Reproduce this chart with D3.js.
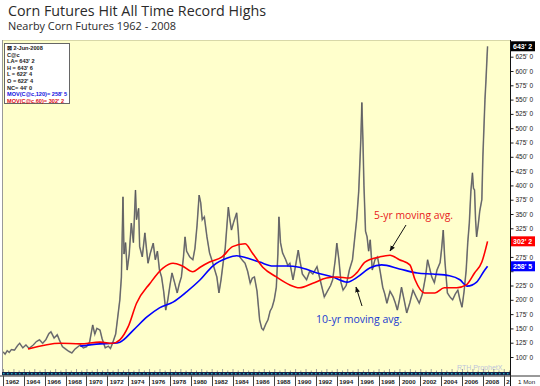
<!DOCTYPE html>
<html>
<head>
<meta charset="utf-8">
<script src="https://cdn.jsdelivr.net/npm/d3@7"></script>
<style>
  body { margin: 0; background: #fff; }
  svg { display: block; }
</style>
</head>
<body>
<div id="chart"></div>
<script>
// chart size
const width = 540;
const height = 386;

// nearby corn futures, cents/bushel
const priceYears = [
  1962.0, 1962.2, 1962.4, 1962.6, 1962.8, 1963.1, 1963.4, 1963.6, 1963.9, 1964.2,
  1964.5, 1964.9, 1965.2, 1965.5, 1965.8, 1966.1, 1966.4, 1966.6, 1966.9, 1967.2,
  1967.4, 1967.7, 1968.0, 1968.3, 1968.6, 1968.9, 1969.2, 1969.4, 1969.7, 1970.0,
  1970.3, 1970.6, 1970.8, 1971.0, 1971.3, 1971.5, 1971.8, 1972.1, 1972.3, 1972.5,
  1972.8, 1973.0, 1973.2, 1973.35, 1973.5, 1973.6, 1973.75, 1973.9, 1974.1, 1974.3,
  1974.5, 1974.7, 1974.8, 1975.0, 1975.1, 1975.35, 1975.6, 1975.75, 1975.9, 1976.1,
  1976.4, 1976.6, 1976.8, 1977.0, 1977.2, 1977.4, 1977.6, 1977.8, 1978.0, 1978.2,
  1978.45, 1978.7, 1978.9, 1979.1, 1979.3, 1979.45, 1979.6, 1979.9, 1980.2, 1980.4,
  1980.6, 1980.8, 1980.95, 1981.1, 1981.3, 1981.55, 1981.8, 1982.05, 1982.3, 1982.5,
  1982.7, 1982.9, 1983.1, 1983.3, 1983.6, 1983.75, 1983.9, 1984.1, 1984.4, 1984.55,
  1984.7, 1985.0, 1985.2, 1985.45, 1985.7, 1985.9, 1986.1, 1986.35, 1986.6, 1986.8,
  1986.95, 1987.2, 1987.4, 1987.6, 1987.8, 1988.0, 1988.2, 1988.35, 1988.45, 1988.6,
  1988.8, 1989.1, 1989.3, 1989.5, 1989.8, 1990.0, 1990.3, 1990.45, 1990.7, 1991.1,
  1991.4, 1991.7, 1992.1, 1992.4, 1992.8, 1993.1, 1993.4, 1993.6, 1993.85, 1994.0,
  1994.2, 1994.4, 1994.6, 1994.9, 1995.2, 1995.5, 1995.7, 1995.9, 1996.1, 1996.3,
  1996.4, 1996.5, 1996.6, 1996.75, 1996.9, 1997.05, 1997.2, 1997.4, 1997.65, 1997.9,
  1998.15, 1998.4, 1998.6, 1998.8, 1999.1, 1999.4, 1999.6, 1999.8, 2000.0, 2000.2,
  2000.45, 2000.7, 2001.0, 2001.3, 2001.6, 2001.9, 2002.2, 2002.5, 2002.7, 2002.9,
  2003.1, 2003.35, 2003.6, 2003.9, 2004.05, 2004.2, 2004.35, 2004.6, 2004.85, 2005.1,
  2005.35, 2005.6, 2005.8, 2006.0, 2006.2, 2006.4, 2006.55, 2006.7, 2006.85, 2007.0,
  2007.1, 2007.2, 2007.3, 2007.4, 2007.55, 2007.7, 2007.9, 2008.0, 2008.1, 2008.2,
  2008.3, 2008.4, 2008.45
];
const priceValues = [
  109, 105, 111, 108, 113, 112, 120, 124, 116, 121,
  115, 121, 127, 130, 124, 130, 141, 144, 133, 139,
  130, 118, 114, 110, 107, 114, 118, 121, 116, 118,
  126, 156, 140, 150, 147, 132, 116, 119, 115, 124,
  140, 170, 200, 240, 380, 280, 300, 252, 280, 334,
  300, 392, 340, 360, 293, 275, 317, 290, 264, 280,
  299, 270, 285, 252, 240, 215, 182, 200, 225, 247,
  230, 212, 228, 240, 275, 310, 285, 275, 270, 290,
  330, 383, 370, 340, 345, 310, 282, 268, 252, 240,
  212, 235, 264, 290, 362, 340, 322, 335, 352, 320,
  275, 268, 264, 250, 229, 238, 240, 215, 165, 150,
  147, 158, 165, 180, 187, 200, 222, 280, 345, 300,
  282, 270, 260, 264, 235, 255, 287, 270, 245, 235,
  250, 245, 258, 235, 205, 215, 225, 235, 270, 299,
  270, 230, 217, 225, 252, 270, 305, 340, 390, 480,
  545, 480, 400, 320, 310, 285, 305, 252, 270, 275,
  250, 222, 210, 194, 215, 205, 195, 182, 200, 222,
  200, 177, 195, 217, 205, 194, 210, 240, 270, 255,
  240, 230, 252, 265, 290, 322, 270, 212, 205, 200,
  210, 217, 200, 187, 215, 252, 300, 334, 390, 422,
  395, 392, 340, 310, 330, 355, 375, 450, 500, 550,
  585, 625, 643
];

// 60-period moving average (5-yr)
const ma60Years = [
  1964.4, 1967.5, 1969.4, 1971.3, 1972.5, 1973.2, 1974.0, 1974.8, 1976.1, 1977.3,
  1978.3, 1979.2, 1980.2, 1980.9, 1981.8, 1983.0, 1984.0, 1985.2, 1985.9, 1986.9,
  1988.2, 1989.5, 1990.4, 1991.7, 1993.0, 1994.0, 1995.2, 1995.9, 1996.7, 1998.1,
  1999.1, 2000.0, 2001.0, 2001.5, 2002.4, 2003.4, 2004.3, 2005.5, 2006.4, 2007.2,
  2007.9, 2008.45
];
const ma60Values = [
  114, 124, 123, 126, 124, 130, 153, 194, 229, 255,
  264, 259, 249, 257, 266, 275, 293, 298, 282, 257,
  240, 226, 221, 229, 238, 240, 238, 247, 266, 275,
  278, 270, 261, 235, 212, 212, 221, 221, 226, 247,
  266, 302.25
];

// 120-period moving average (10-yr)
const ma120Years = [
  1969.4, 1971.3, 1972.5, 1973.2, 1974.5, 1975.8, 1977.0, 1978.3, 1979.6, 1980.9,
  1982.1, 1983.5, 1984.4, 1985.4, 1986.6, 1987.9, 1989.2, 1990.4, 1992.1, 1993.6,
  1995.0, 1996.0, 1997.2, 1998.3, 2000.0, 2001.7, 2003.2, 2004.8, 2005.8, 2006.5,
  2007.4, 2008.1, 2008.45
];
const ma120Values = [
  119, 123, 124, 126, 147, 170, 186, 196, 214, 235,
  259, 273, 277, 273, 266, 259, 259, 257, 247, 240,
  231, 240, 256, 261, 254, 247, 245, 242, 235, 224,
  231, 250, 258.6
];

const yearTicks = d3.range(1962, 2011, 2);
const priceTicks = d3.range(100, 651, 25);
// tick labels hidden behind the last-value badges
const coveredTicks = [250, 300, 650];

const legendLines = [
  '\u22A0 2-Jun-2008', 'C@c', 'LA= 643\' 2', 'H = 643\' 6', 'L = 622\' 4',
  'O = 622\' 4', 'NC= 44\' 0', 'MOV(C@c,120)= 258\' 5', 'MOV(C@c,60)= 302\' 2'
];
const legendColors = ['#222', '#222', '#222', '#222', '#222', '#222', '#222', '#1010e0', '#e01010'];

const badgeValues = [643.25, 302.25, 258.6];
const badgeLabels = ["643' 2", "302' 2", "258' 5"];
const badgeColors = ['#000', '#ff0000', '#0000ff'];

// plot box
const plotLeft = 3, plotRight = 510, plotTop = 40, plotBottom = 372;

const svg = d3.select('#chart')
  .append('svg')
  .attr('width', width)
  .attr('height', height)
  .style('font-family', '"Liberation Sans", Arial, sans-serif');

svg.append('rect').attr('width', width).attr('height', height).attr('fill', '#fff');

const x = d3.scaleLinear().domain([1962, 2010.6]).range([plotLeft, plotRight]);
const y = d3.scaleLinear().domain([73.8, 654.2]).range([plotBottom, plotTop]);

// titles
svg.append('text')
  .attr('x', 8).attr('y', 16)
  .attr('font-family', '"Open Sans", sans-serif')
  .attr('font-size', 14)
  .attr('fill', '#2a2a2a')
  .attr('textLength', 258).attr('lengthAdjust', 'spacingAndGlyphs')
  .text('Corn Futures Hit All Time Record Highs');

svg.append('text')
  .attr('x', 8).attr('y', 29.5)
  .attr('font-family', '"Open Sans", sans-serif')
  .attr('font-size', 10.5)
  .attr('fill', '#2a2a2a')
  .attr('textLength', 168).attr('lengthAdjust', 'spacingAndGlyphs')
  .text('Nearby Corn Futures 1962 - 2008');

// plot background
svg.append('rect')
  .attr('x', plotLeft).attr('y', plotTop)
  .attr('width', plotRight - plotLeft).attr('height', plotBottom - plotTop)
  .attr('fill', '#ffffcc');
svg.append('line')
  .attr('x1', plotLeft).attr('x2', plotRight).attr('y1', plotTop + 0.5).attr('y2', plotTop + 0.5)
  .attr('stroke', '#d8d8a8');
svg.append('line')
  .attr('x1', plotLeft - 0.5).attr('x2', plotLeft - 0.5).attr('y1', plotTop).attr('y2', plotBottom)
  .attr('stroke', '#999');

svg.append('clipPath').attr('id', 'plot-clip')
  .append('rect')
  .attr('x', plotLeft).attr('y', plotTop)
  .attr('width', plotRight - plotLeft).attr('height', plotBottom - plotTop);

const plotG = svg.append('g').attr('clip-path', 'url(#plot-clip)');

const priceData = priceYears.map((yr, i) => [yr, priceValues[i]]);
const ma60Data = ma60Years.map((yr, i) => [yr, ma60Values[i]]);
const ma120Data = ma120Years.map((yr, i) => [yr, ma120Values[i]]);

const priceLine = d3.line().x(d => x(d[0])).y(d => y(d[1]));
const maLine = d3.line().x(d => x(d[0])).y(d => y(d[1])).curve(d3.curveMonotoneX);

plotG.append('path').datum(priceData)
  .attr('d', priceLine)
  .attr('fill', 'none').attr('stroke', '#8c8c8c').attr('stroke-width', 1.6);
plotG.append('path').datum(priceData)
  .attr('d', priceLine)
  .attr('fill', 'none').attr('stroke', '#4a4a4a').attr('stroke-width', 0.6);

plotG.append('path').datum(ma120Data)
  .attr('d', maLine)
  .attr('fill', 'none').attr('stroke', '#0000ff').attr('stroke-width', 1.6);
plotG.append('path').datum(ma60Data)
  .attr('d', maLine)
  .attr('fill', 'none').attr('stroke', '#ff0000').attr('stroke-width', 1.6);

// watermark
svg.append('text')
  .attr('x', 457).attr('y', 370)
  .attr('font-size', 7).attr('fill', '#bcc4dc')
  .text('RTH ProphetX');

// legend box
const legend = svg.append('g').attr('transform', 'translate(4,43)');
legend.append('rect')
  .attr('x', 0.5).attr('y', 0.5).attr('width', 65).attr('height', 60)
  .attr('fill', '#fff').attr('stroke', '#666');
legend.selectAll('text')
  .data(legendLines)
  .enter()
  .append('text')
  .attr('x', 3)
  .attr('y', (d, i) => 7 + i * 6.6)
  .attr('font-size', 5.6)
  .attr('font-weight', 'bold')
  .attr('fill', (d, i) => legendColors[i])
  .text(d => d);

// annotations
const defs = svg.append('defs');
defs.append('marker')
  .attr('id', 'arrow')
  .attr('viewBox', '0 0 10 10')
  .attr('refX', 9).attr('refY', 5)
  .attr('markerWidth', 6).attr('markerHeight', 6)
  .attr('orient', 'auto')
  .append('path').attr('d', 'M0,1 L10,5 L0,9 z').attr('fill', '#111');

svg.append('text')
  .attr('x', 374).attr('y', 219)
  .attr('font-family', '"Open Sans", sans-serif')
  .attr('font-size', 11).attr('fill', '#e82020')
  .attr('textLength', 79).attr('lengthAdjust', 'spacingAndGlyphs')
  .text('5-yr moving avg.');
svg.append('line')
  .attr('x1', 406).attr('y1', 225).attr('x2', 390).attr('y2', 251)
  .attr('stroke', '#111').attr('stroke-width', 1)
  .attr('marker-end', 'url(#arrow)');

svg.append('text')
  .attr('x', 316).attr('y', 323)
  .attr('font-family', '"Open Sans", sans-serif')
  .attr('font-size', 11).attr('fill', '#1a3ad0')
  .attr('textLength', 86).attr('lengthAdjust', 'spacingAndGlyphs')
  .text('10-yr moving avg.');
svg.append('line')
  .attr('x1', 362).attr('y1', 306).attr('x2', 356).attr('y2', 287)
  .attr('stroke', '#111').attr('stroke-width', 1)
  .attr('marker-end', 'url(#arrow)');

// right price axis
svg.append('rect')
  .attr('x', plotRight).attr('y', plotTop)
  .attr('width', width - plotRight).attr('height', height - plotTop)
  .attr('fill', '#fff');

const yAxis = svg.append('g')
  .attr('transform', `translate(${plotRight + 0.5},0)`)
  .call(d3.axisRight(y)
    .tickValues(priceTicks)
    .tickFormat(d => d + "' 0")
    .tickSize(3)
    .tickPadding(2));
yAxis.select('.domain').remove();
yAxis.selectAll('line').attr('stroke', '#222');
yAxis.selectAll('.tick text')
  .filter(d => coveredTicks.includes(d))
  .remove();
yAxis.selectAll('text')
  .attr('font-size', 6.5)
  .attr('font-family', '"Liberation Sans", Arial, sans-serif')
  .attr('fill', '#222');

svg.append('line')
  .attr('x1', plotRight + 0.5).attr('x2', plotRight + 0.5)
  .attr('y1', plotTop).attr('y2', height)
  .attr('stroke', '#111');

// last-value badges
const badges = svg.append('g');
badgeValues.forEach((v, i) => {
  badges.append('rect')
    .attr('x', plotRight + 1).attr('y', y(v) - 5)
    .attr('width', 24).attr('height', 10)
    .attr('fill', badgeColors[i]);
  badges.append('text')
    .attr('x', plotRight + 3).attr('y', y(v) + 2.5)
    .attr('font-size', 7).attr('font-weight', 'bold')
    .attr('fill', '#fff')
    .text(badgeLabels[i]);
});

// bottom time axis
const axisG = svg.append('g');
const minorYears = d3.range(1962, 2010.6, 0.5);
axisG.selectAll('.minor')
  .data(minorYears)
  .enter()
  .append('line')
  .attr('x1', d => x(d) + 0.5).attr('x2', d => x(d) + 0.5)
  .attr('y1', d => Number.isInteger(d) ? plotBottom - 3 : plotBottom - 1.5)
  .attr('y2', plotBottom)
  .attr('stroke', '#8a8a8a').attr('stroke-width', 0.8);

axisG.append('rect')
  .attr('x', plotLeft - 1).attr('y', plotBottom)
  .attr('width', plotRight - plotLeft + 1).attr('height', 3.5)
  .attr('fill', '#14244a');
axisG.append('line')
  .attr('x1', plotLeft).attr('x2', plotRight)
  .attr('y1', plotBottom + 1.75).attr('y2', plotBottom + 1.75)
  .attr('stroke', '#20d8e8').attr('stroke-width', 1.2)
  .attr('stroke-dasharray', '1.5,2.5');

const labelTop = plotBottom + 3.5;
axisG.append('rect')
  .attr('x', 0).attr('y', labelTop)
  .attr('width', plotRight).attr('height', height - labelTop)
  .attr('fill', '#fff');
axisG.append('line')
  .attr('x1', 0).attr('x2', width)
  .attr('y1', labelTop + 0.5).attr('y2', labelTop + 0.5)
  .attr('stroke', '#333');

const xLabels = axisG.append('g');
xLabels.selectAll('line')
  .data(yearTicks)
  .enter()
  .append('line')
  .attr('x1', d => Math.round(x(d)) + 0.5).attr('x2', d => Math.round(x(d)) + 0.5)
  .attr('y1', labelTop).attr('y2', height)
  .attr('stroke', '#444');
// the last box is cut by the price axis, so only its first digit shows
xLabels.selectAll('text')
  .data(yearTicks)
  .enter()
  .append('text')
  .attr('x', d => x(d) + 2.5)
  .attr('y', height - 2)
  .attr('font-size', 6.2)
  .attr('font-weight', 'bold')
  .attr('fill', '#222')
  .text(d => x(d) + 18 > plotRight ? String(d).slice(0, 1) : d);

svg.append('text')
  .attr('x', 518).attr('y', height - 2)
  .attr('font-size', 6.2)
  .attr('fill', '#222')
  .text('1 Mon');
</script>
</body>
</html>
